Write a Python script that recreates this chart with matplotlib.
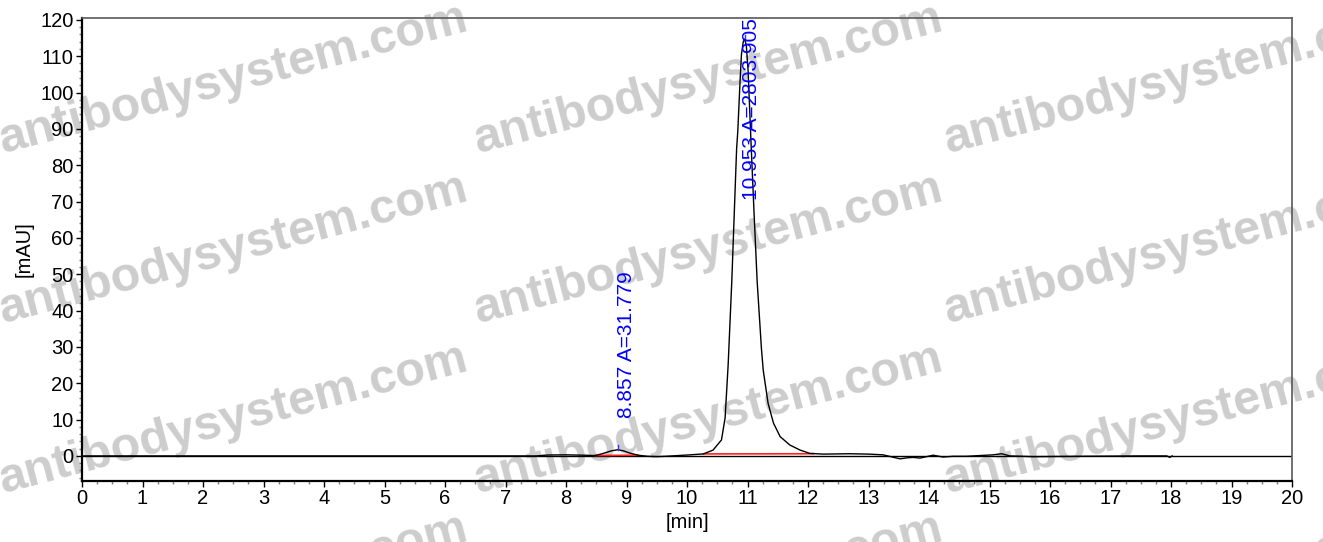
import numpy as np
import matplotlib
matplotlib.use('Agg')
import matplotlib.pyplot as plt
from matplotlib.ticker import MultipleLocator

plt.rcParams['font.family'] = ['Liberation Sans', 'DejaVu Sans']

# chromatogram trace (time [min], signal [mAU])
t = [0.0, 1.0, 2.0, 3.0, 4.0, 5.0, 6.0, 7.0, 7.5, 7.7, 8.0, 8.3, 8.48, 8.6, 8.75,
     8.857, 8.95, 9.05, 9.19, 9.35, 9.5, 9.65, 9.85, 10.05, 10.27, 10.43, 10.57,
     10.63, 10.68, 10.74, 10.78, 10.82, 10.84, 10.876, 10.90, 10.93, 10.953, 10.98,
     11.01, 11.06, 11.11, 11.16, 11.23, 11.26, 11.34, 11.43, 11.54, 11.70, 11.87,
     12.03, 12.25, 12.69, 13.0, 13.24, 13.52, 13.65, 13.74, 13.85, 14.07, 14.23,
     14.4, 14.62, 15.06, 15.2, 15.34, 15.72, 16.5, 17.5, 17.93, 17.98, 18.02]
mau = [0.0, 0.0, 0.0, 0.0, 0.0, 0.0, 0.0, 0.0, 0.0, 0.25, 0.3, 0.2, 0.1, 0.6, 1.4,
       1.7, 1.4, 0.8, 0.2, -0.1, -0.2, -0.1, 0.1, 0.3, 0.55, 1.6, 4.4,
       10.5, 25.0, 47.9, 66.2, 84.5, 89.5, 102.8, 110.5, 114.0, 114.7, 113.0,
       106.0, 85.5, 66.2, 47.9, 29.6, 23.6, 14.5, 9.0, 5.3, 3.0, 1.6,
       0.7, 0.5, 0.6, 0.5, 0.3, -0.8, -0.5, -0.4, -0.6, 0.2, -0.3,
       -0.1, -0.1, 0.3, 0.6, 0.0, -0.2, -0.1, 0.0, 0.0, -0.4, 0.0]

# integration baselines (red)
base1_t = [8.48, 9.19]
base1_y = [0.1, 0.2]
base2_t = [10.27, 12.09]
base2_y = [0.55, 0.6]

# peak annotations
peak_rt = [8.857, 10.953]
peak_h = [1.7, 114.7]
peak_txt = ['8.857 A=31.779', '10.953 A=2803.905']
txt_x = [9.0, 11.07]
txt_y = [10.4, 70.3]

W, H = 1323, 542
fig = plt.figure(figsize=(W / 100, H / 100), dpi=100)
ax = fig.add_axes([82 / W, 1 - 481 / H, (1292 - 82) / W, (481 - 18) / H])
ax.set_facecolor('none')

ax.axhline(0, color='k', lw=1.0, zorder=1)
ax.plot(t, mau, color='k', lw=1.0, zorder=3)
ax.plot(base1_t, base1_y, color='#ff2020', lw=1.2, zorder=2)
ax.plot(base2_t, base2_y, color='#ff2020', lw=1.2, zorder=2)

# small blue apex marks and labels
for rt, h in zip(peak_rt, peak_h):
    ax.plot([rt, rt], [h, h + 1.2], color='#3030ff', lw=1.0, zorder=4)
for x, y, s in zip(txt_x, txt_y, peak_txt):
    ax.text(x, y, s, rotation=90, ha='center', va='bottom', color='#0000ff',
            fontsize=15, zorder=5)

ax.set_xlim(0, 20)
ax.set_ylim(-6.9, 120.5)
ax.xaxis.set_major_locator(MultipleLocator(1))
ax.xaxis.set_minor_locator(MultipleLocator(0.25))
ax.yaxis.set_major_locator(MultipleLocator(10))
ax.yaxis.set_minor_locator(MultipleLocator(2))
ax.tick_params(which='major', length=4, width=1, direction='out', labelsize=14.5, pad=2)
ax.tick_params(which='minor', length=2, width=1, direction='out', color='0.5')
ax.set_xlabel('[min]', fontsize=14.5, labelpad=3)
ax.set_ylabel('[mAU]', fontsize=14.5, labelpad=5)

for side in ['left', 'bottom']:
    ax.spines[side].set_color('k')
    ax.spines[side].set_linewidth(1.6)
for side in ['top', 'right']:
    ax.spines[side].set_color('0.35')
    ax.spines[side].set_linewidth(1.2)

# watermark grid, under the chart content
wm_x = [3, 478, 948]
wm_y = [153, 323, 493, 663]
for yy in wm_y:
    for xx in wm_x:
        fig.text(xx / W, 1 - yy / H, 'antibodysystem.com', rotation=14.8,
                 rotation_mode='anchor', ha='left', va='baseline',
                 fontsize=35, fontweight='bold', color='#cdcdcd', zorder=-1)

fig.savefig('out.png', dpi=100)
